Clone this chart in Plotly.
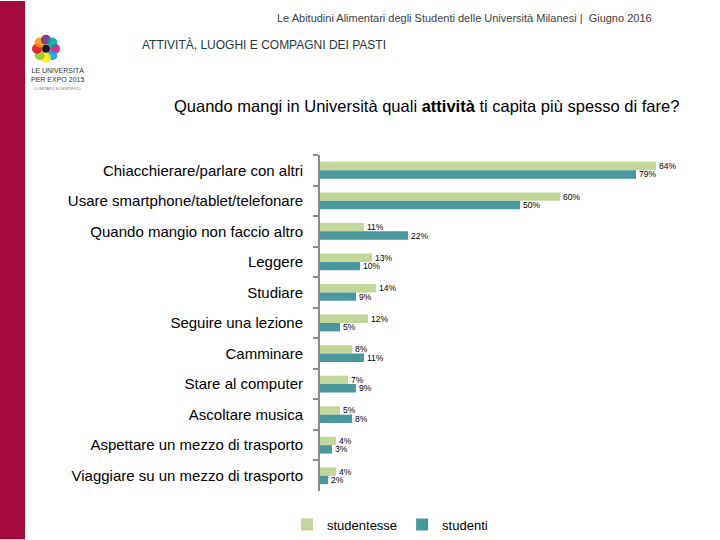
import math
import plotly.graph_objects as go

categories = [
    "Chiacchierare/parlare con altri",
    "Usare smartphone/tablet/telefonare",
    "Quando mangio non faccio altro",
    "Leggere",
    "Studiare",
    "Seguire una lezione",
    "Camminare",
    "Stare al computer",
    "Ascoltare musica",
    "Aspettare un mezzo di trasporto",
    "Viaggiare su un mezzo di trasporto",
]
studentesse = [84, 60, 11, 13, 14, 12, 8, 7, 5, 4, 4]
studenti = [79, 50, 22, 10, 9, 5, 11, 9, 8, 3, 2]

GREEN = "#C4D79B"
TEAL = "#4A979C"
FONT = "Liberation Sans"

L, T, B = 320, 154.5, 48.5
PW, PH = 400, 540 - T - B


def px_x(x):
    return (x - L) / PW


def px_y(y):
    return (540 - B - y) / PH


fig = go.Figure()
fig.add_trace(go.Bar(
    y=categories, x=studentesse, name="studentesse", orientation="h",
    marker=dict(color=GREEN, line=dict(width=0)),
    text=[f"{v}%" for v in studentesse], textposition="outside",
    constraintext="none",
    textfont=dict(size=8.5, color="#000000", family=FONT), cliponaxis=False,
))
fig.add_trace(go.Bar(
    y=categories, x=studenti, name="studenti", orientation="h",
    marker=dict(color=TEAL, line=dict(width=0)),
    text=[f"{v}%" for v in studenti], textposition="outside",
    constraintext="none",
    textfont=dict(size=8.5, color="#000000", family=FONT), cliponaxis=False,
))

fig.update_layout(
    width=720, height=540,
    margin=dict(l=L, r=0, t=T, b=B),
    paper_bgcolor="white", plot_bgcolor="white",
    barmode="group", bargap=0.45, bargroupgap=0,
    font=dict(family=FONT, color="#000000"),
    showlegend=True,
    legend=dict(orientation="h", x=0.175, xanchor="center", xref="paper",
                y=-0.055, yanchor="top", font=dict(size=13, family=FONT),
                itemwidth=30, tracegroupgap=0),
    xaxis=dict(range=[0, 100], showgrid=False, showticklabels=False,
               zeroline=False, showline=False, ticks=""),
    yaxis=dict(autorange="reversed", showgrid=False, showline=True,
               linecolor="#8C8C8C", linewidth=2, ticks="outside",
               tickson="boundaries", ticklen=5, tickcolor="#8C8C8C",
               tickwidth=2, tickfont=dict(size=15, family=FONT),
               ticklabelstandoff=12),
)

# red side band
fig.add_shape(type="rect", xref="paper", yref="paper",
              x0=px_x(0), x1=px_x(25), y0=px_y(540), y1=px_y(0),
              fillcolor="#A50A3C", line=dict(width=0), layer="below")
# logo background
fig.add_shape(type="rect", xref="paper", yref="paper",
              x0=px_x(25), x1=px_x(88), y0=px_y(105), y1=px_y(28),
              fillcolor="white", line=dict(width=0))

# simple flower logo petals
petal_colors = ["#E6007E", "#009FE3", "#FFED00", "#95C11F", "#E30613",
                "#F39200", "#662483", "#00A19A"]
cx, cy = 46, 48
for i, c in enumerate(petal_colors):
    a = i * 2 * math.pi / len(petal_colors)
    pcx, pcy = cx + 9 * math.cos(a), cy + 9 * math.sin(a)
    fig.add_shape(type="circle", xref="paper", yref="paper",
                  x0=px_x(pcx - 5), x1=px_x(pcx + 5),
                  y0=px_y(pcy + 5), y1=px_y(pcy - 5),
                  fillcolor=c, line=dict(width=0), opacity=0.85)
fig.add_shape(type="circle", xref="paper", yref="paper",
              x0=px_x(cx - 4), x1=px_x(cx + 4),
              y0=px_y(cy + 4), y1=px_y(cy - 4),
              fillcolor="#1A1A1A", line=dict(width=0))


def ann_px(text, x, y, size, color="#000000", xanchor="left"):
    fig.add_annotation(text=text, x=px_x(x), y=px_y(y),
                       xref="paper", yref="paper", showarrow=False,
                       xanchor=xanchor, yanchor="middle",
                       font=dict(size=size, color=color, family=FONT))


ann_px("LE UNIVERSITÀ<br>PER EXPO 2015", 57, 74, 7, "#333333", "center")
ann_px("COMITATO SCIENTIFICO", 57, 88, 4, "#777777", "center")
ann_px("Le Abitudini Alimentari degli Studenti delle Università Milanesi |  Giugno 2016",
       464, 17, 11, "#404040", "center")
ann_px("ATTIVITÀ, LUOGHI E COMPAGNI DEI PASTI", 140, 44, 12, "#1E3A3A")
ann_px("Quando mangi in Università quali <b>attività</b> ti capita più spesso di fare?",
       426, 105, 16.5, "#000000", "center")

fig.write_html("out.html", config={"displayModeBar": False},
               post_script="document.body.style.margin='0';")
